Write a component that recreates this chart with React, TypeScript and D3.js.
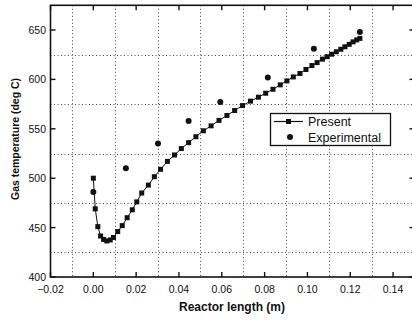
import { useEffect, useRef } from 'react';
import * as d3 from 'd3';

// Present (model) curve: reactor length (m) and gas temperature (deg C)
const presentX = [
  0.0, 0.0009, 0.0021, 0.0034, 0.0048, 0.0063, 0.0079, 0.0094, 0.0114, 0.0135,
  0.0158, 0.0182, 0.0203, 0.0226, 0.0257, 0.0285, 0.0314, 0.0346, 0.0379, 0.0411,
  0.0445, 0.0479, 0.0514, 0.055, 0.0587, 0.0624, 0.066, 0.0697, 0.0734, 0.0771,
  0.0805, 0.0839, 0.0873, 0.0904, 0.0934, 0.0965, 0.0993, 0.1021, 0.1045, 0.107,
  0.1092, 0.1113, 0.1135, 0.1156, 0.1175, 0.1195, 0.1213, 0.123, 0.1245,
];
const presentT = [
  500, 469, 451, 441.5, 438, 436.5, 437.5, 440, 446, 452,
  460, 468, 476, 485, 493, 501.5, 509, 517, 523.5, 530,
  536, 542, 548, 553, 558.5, 563.5, 568.5, 573.5, 578, 582,
  586, 590, 594.5, 598.5, 602.5, 606, 610, 614, 617, 620.5,
  623, 625.5, 628, 630.5, 633, 635.5, 638, 640, 641.5,
];

// Experimental measurements
const expX = [0.0, 0.0152, 0.0302, 0.0445, 0.0593, 0.0815, 0.103, 0.1245];
const expT = [486, 510, 535, 558, 577, 602, 631, 648];

const xTicks = [-0.02, 0.0, 0.02, 0.04, 0.06, 0.08, 0.1, 0.12, 0.14];
const xGrid = [-0.01, 0.01, 0.03, 0.05, 0.07, 0.09, 0.11, 0.13];
const yTicks = [400, 450, 500, 550, 600, 650];
const yGrid = [425, 475, 525, 575, 625];

const legendLabels = ['Present', 'Experimental'];

export default function App() {
  const svgRef = useRef<SVGSVGElement>(null);

  useEffect(() => {
    if (!svgRef.current) return;
    const svg = d3.select(svgRef.current);
    svg.selectAll('*').remove();

    const font = '"Liberation Sans", Arial, sans-serif';
    const ink = '#111';

    const x = d3.scaleLinear().domain([-0.02, 0.15]).range([50.5, 414.5]);
    const y = d3.scaleLinear().domain([400, 675]).range([277, 5.3]);
    const [x0, x1] = x.range();
    const [y0, y1] = y.range();

    // Dotted grid at the minor positions
    const grid = svg.append('g')
      .attr('stroke', '#444')
      .attr('stroke-width', 1)
      .attr('stroke-dasharray', '1,2.5');
    xGrid.forEach(v => {
      grid.append('line')
        .attr('x1', Math.round(x(v)) + 0.5).attr('x2', Math.round(x(v)) + 0.5)
        .attr('y1', y1).attr('y2', y0);
    });
    yGrid.forEach(v => {
      grid.append('line')
        .attr('x1', x0).attr('x2', x1)
        .attr('y1', Math.round(y(v)) + 0.5).attr('y2', Math.round(y(v)) + 0.5);
    });

    // Frame
    svg.append('rect')
      .attr('x', x0).attr('y', y1)
      .attr('width', x1 - x0).attr('height', y0 - y1)
      .attr('fill', 'none')
      .attr('stroke', ink)
      .attr('stroke-width', 1.6);

    // Inward ticks on all four sides
    const tickLen = 5;
    const ticks = svg.append('g').attr('stroke', ink).attr('stroke-width', 1.4);
    xTicks.forEach(v => {
      ticks.append('line').attr('x1', x(v)).attr('x2', x(v)).attr('y1', y0).attr('y2', y0 - tickLen);
      ticks.append('line').attr('x1', x(v)).attr('x2', x(v)).attr('y1', y1).attr('y2', y1 + tickLen);
    });
    yTicks.forEach(v => {
      ticks.append('line').attr('x1', x0).attr('x2', x0 + tickLen).attr('y1', y(v)).attr('y2', y(v));
      ticks.append('line').attr('x1', x1).attr('x2', x1 - tickLen).attr('y1', y(v)).attr('y2', y(v));
    });

    // Tick labels
    svg.append('g')
      .selectAll('text')
      .data(xTicks)
      .join('text')
      .attr('x', d => x(d))
      .attr('y', 293)
      .attr('text-anchor', 'middle')
      .attr('font-family', font)
      .attr('font-size', '10.5px')
      .attr('fill', ink)
      .text(d => d3.format('.2f')(d));

    svg.append('g')
      .selectAll('text')
      .data(yTicks)
      .join('text')
      .attr('x', 46)
      .attr('y', d => y(d) + 4)
      .attr('text-anchor', 'end')
      .attr('font-family', font)
      .attr('font-size', '10.5px')
      .attr('fill', ink)
      .text(d => String(d));

    // Axis titles
    svg.append('text')
      .attr('x', 232)
      .attr('y', 311)
      .attr('text-anchor', 'middle')
      .attr('font-family', font)
      .attr('font-weight', 'bold')
      .attr('font-size', '12px')
      .attr('fill', ink)
      .text('Reactor length (m)');

    svg.append('text')
      .attr('transform', 'rotate(-90)')
      .attr('x', -139)
      .attr('y', 19)
      .attr('text-anchor', 'middle')
      .attr('font-family', font)
      .attr('font-weight', 'bold')
      .attr('font-size', '10.5px')
      .attr('textLength', 122)
      .attr('lengthAdjust', 'spacingAndGlyphs')
      .attr('fill', ink)
      .text('Gas temperature (deg C)');

    // Present line + squares
    const present = presentX.map((v, i) => ({ x: v, t: presentT[i] }));
    const line = d3.line<{ x: number; t: number }>()
      .x(d => x(d.x))
      .y(d => y(d.t));

    svg.append('path')
      .datum(present)
      .attr('fill', 'none')
      .attr('stroke', ink)
      .attr('stroke-width', 1)
      .attr('d', line);

    const sq = 5;
    svg.append('g')
      .selectAll('rect')
      .data(present)
      .join('rect')
      .attr('x', d => x(d.x) - sq / 2)
      .attr('y', d => y(d.t) - sq / 2)
      .attr('width', sq)
      .attr('height', sq)
      .attr('fill', ink);

    // Experimental circles
    const exp = expX.map((v, i) => ({ x: v, t: expT[i] }));
    svg.append('g')
      .selectAll('circle')
      .data(exp)
      .join('circle')
      .attr('cx', d => x(d.x))
      .attr('cy', d => y(d.t))
      .attr('r', 3)
      .attr('fill', ink);

    // Legend
    const lg = svg.append('g');
    lg.append('rect')
      .attr('x', 270.5).attr('y', 113.5)
      .attr('width', 120).attr('height', 32)
      .attr('fill', '#fff')
      .attr('stroke', ink)
      .attr('stroke-width', 1.3);
    lg.append('line')
      .attr('x1', 274).attr('x2', 303)
      .attr('y1', 121.5).attr('y2', 121.5)
      .attr('stroke', ink).attr('stroke-width', 1.2);
    lg.append('rect')
      .attr('x', 288.5 - sq / 2).attr('y', 121.5 - sq / 2)
      .attr('width', sq).attr('height', sq)
      .attr('fill', ink);
    lg.append('circle')
      .attr('cx', 290).attr('cy', 137)
      .attr('r', 3)
      .attr('fill', ink);
    legendLabels.forEach((label, i) => {
      lg.append('text')
        .attr('x', 308)
        .attr('y', 126 + i * 15.5)
        .attr('font-family', font)
        .attr('font-size', '12.5px')
        .attr('fill', ink)
        .text(label);
    });
  }, []);

  return (
    <svg
      ref={svgRef}
      width={412}
      height={320}
      style={{ position: 'absolute', left: 0, top: 0, background: '#fff' }}
    />
  );
}
